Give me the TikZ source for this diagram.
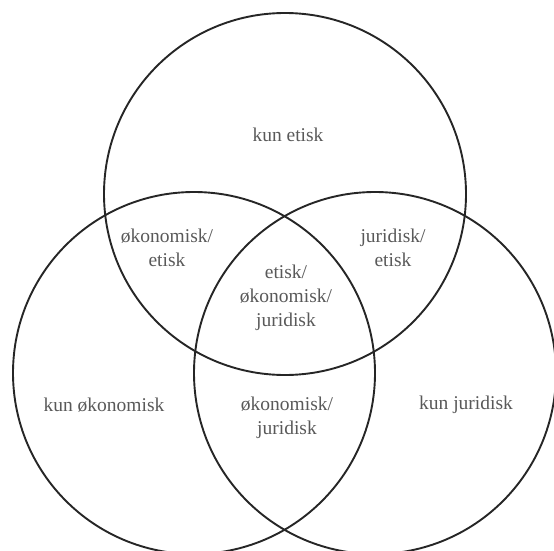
\documentclass[tikz,border=0pt]{standalone}
\usepackage{fontspec}
\setmainfont{Liberation Serif}
\begin{document}
\begin{tikzpicture}[x=1pt,y=-1pt,
  ring/.style={draw=black!85, line width=1.9pt},
  lbl/.style={text=black!65, font=\fontsize{19.5}{24}\selectfont, align=center, inner sep=0pt}]
\useasboundingbox (0,0) rectangle (554,551);
\begin{scope}
\clip (0,0) rectangle (554,551);
\draw[ring] (285,194) circle[radius=181];
\draw[ring] (194,373) circle[radius=181];
\draw[ring] (375,373) circle[radius=181];
\end{scope}
\node[lbl] (e) at (288,135) {kun etisk};
\node[lbl] (oe) at (167,248) {økonomisk/\\etisk};
\node[lbl] (je) at (393,248) {juridisk/\\etisk};
\node[lbl] (all) at (286,298) {etisk/\\økonomisk/\\juridisk};
\node[lbl] (o) at (104,405) {kun økonomisk};
\node[lbl] (oj) at (287,418) {økonomisk/\\juridisk};
\node[lbl] (j) at (466,405) {kun juridisk};
\end{tikzpicture}
\end{document}
